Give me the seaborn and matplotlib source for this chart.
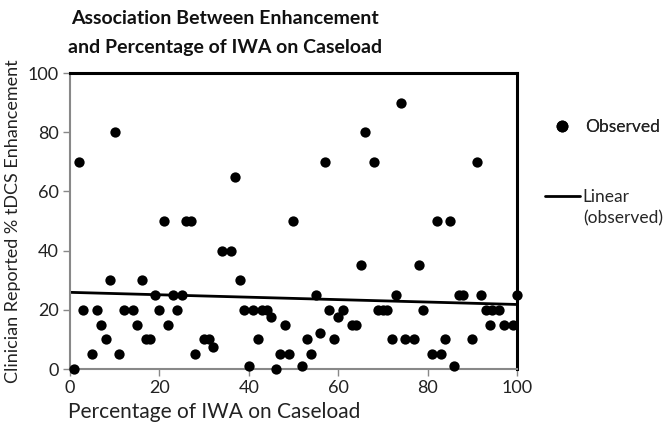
import pandas as pd
import matplotlib.pyplot as plt
from matplotlib.lines import Line2D
import seaborn as sns

# percentage of IWA on caseload vs reported enhancement
pct_iwa = [1, 2, 3, 5, 6, 7, 8, 9, 10, 11, 12, 14, 15, 16, 17, 18, 19, 20,
           21, 22, 23, 24, 25, 26, 27, 28, 30, 31, 32, 34, 36, 37, 38, 39,
           40, 41, 42, 43, 44, 45, 46, 47, 48, 49, 50, 52, 53, 54, 55, 56,
           57, 58, 59, 60, 61, 63, 64, 65, 66, 68, 69, 70, 71, 72, 73, 74,
           75, 77, 78, 79, 81, 82, 83, 84, 85, 86, 87, 88, 90, 91, 92, 93,
           94.5, 96, 94, 97, 99, 100]
enhancement = [0, 70, 20, 5, 20, 15, 10, 30, 80, 5, 20, 20, 15, 30, 10, 10, 25, 20,
               50, 15, 25, 20, 25, 50, 50, 5, 10, 10, 7.5, 40, 40, 65, 30, 20,
               1, 20, 10, 20, 20, 17.5, 0, 5, 15, 5, 50, 1, 10, 5, 25, 12,
               70, 20, 10, 17.5, 20, 15, 15, 35, 80, 70, 20, 20, 20, 10, 25, 90,
               10, 10, 35, 20, 5, 50, 5, 10, 50, 1, 25, 25, 10, 70, 25, 20,
               20, 20, 15, 15, 15, 25]

# linear trendline as drawn in the figure (value at x=0 and x=100)
trend_pct = [0, 100]
trend_enh = [25.9, 21.8]

df = pd.DataFrame({'pct': pct_iwa, 'enh': enhancement})
trend = pd.DataFrame({'pct': trend_pct, 'enh': trend_enh})

sns.set_style('white')
plt.rcParams['font.family'] = ['Lato', 'DejaVu Sans']

fig = plt.figure(figsize=(6.64, 4.26), dpi=100)
ax = fig.add_axes([0.1054, 0.1338, 0.6732, 0.6948])

sns.lineplot(data=trend, x='pct', y='enh', ax=ax, color='black', linewidth=2, zorder=2)
sns.scatterplot(data=df, x='pct', y='enh', ax=ax, color='black', s=55,
                edgecolor='black', linewidth=0, zorder=3, clip_on=False)
ax.set_xlim(0, 100)
ax.set_ylim(0, 100)

ax.set_xticks(range(0, 101, 20))
ax.set_yticks(range(0, 101, 20))
ax.tick_params(axis='both', direction='out', length=5, width=1, color='#888888',
               labelsize=13, pad=3, bottom=True, left=True, labelcolor='#222222')
ax.set_xlabel('Percentage of IWA on Caseload', fontsize=15, color='#222222')
ax.xaxis.set_label_coords(0.322, -0.11)
ax.set_ylabel('Clinician Reported % tDCS Enhancement', fontsize=13,
              color='#222222', labelpad=5)

for side in ['left', 'bottom']:
    ax.spines[side].set_color('#888888')
    ax.spines[side].set_linewidth(1.5)
for side in ['top', 'right']:
    ax.spines[side].set_color('black')
    ax.spines[side].set_linewidth(2.2)

fig.text(0.339, 0.957, 'Association Between Enhancement', ha='center', va='center',
         fontsize=14, fontweight='bold', color='#111111')
fig.text(0.339, 0.889, 'and Percentage of IWA on Caseload', ha='center', va='center',
         fontsize=14, fontweight='bold', color='#111111')

leg1 = fig.legend([Line2D([], [], marker='o', color='black', linestyle='none', markersize=7.5)],
                  ['Observed'], loc='center left', bbox_to_anchor=(553 / 664, 0.702),
                  frameon=False, fontsize=12.5, borderpad=0, borderaxespad=0,
                  handlelength=1.0, handletextpad=0.85)
fig.add_artist(leg1)
fig.legend([Line2D([], [], color='black', linewidth=2)], ['Linear'],
           loc='center left', bbox_to_anchor=(545 / 664, 0.5376), frameon=False,
           fontsize=12.5, borderpad=0, borderaxespad=0,
           handlelength=2.0, handletextpad=0.15)
fig.text(583 / 664, 0.488, '(observed)', ha='left', va='center', fontsize=12.5)

fig.savefig('out.png', dpi=100)
